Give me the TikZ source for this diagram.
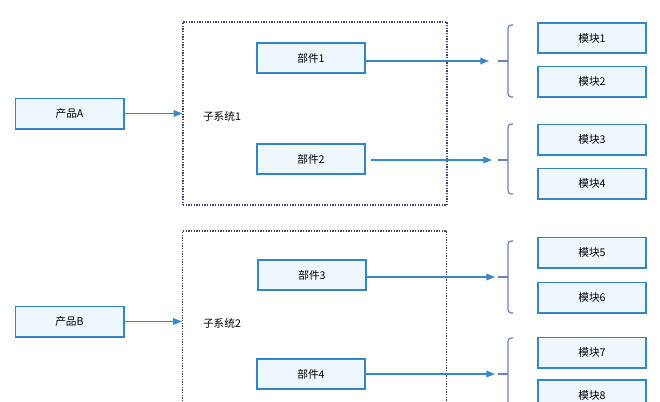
\documentclass[tikz,border=0pt]{standalone}
\usepackage{fontspec}
\setmainfont{Noto Sans CJK SC}
\usetikzlibrary{arrows.meta}
\definecolor{boxline}{HTML}{3485C6}
\definecolor{boxfill}{HTML}{EEF7FD}
\definecolor{dotline}{HTML}{38447A}
\definecolor{brline}{HTML}{6F82B8}
\definecolor{arr}{HTML}{3A88C8}
\begin{document}
\begin{tikzpicture}[x=0.75pt,y=-0.75pt,
 comp/.style={draw=boxline, fill=boxfill, line width=1.3pt, minimum width=81.2pt, minimum height=22.7pt, inner sep=0pt, font=\fontsize{8}{9}\selectfont},
 grp/.style={draw=dotline, densely dotted, line width=1pt, minimum width=198pt, minimum height=137.25pt, inner sep=0pt},
 lab/.style={font=\fontsize{8}{9}\selectfont, inner sep=0pt},
 link/.style={draw=arr, line width=0.9pt, -{Triangle[length=6.5pt,width=5pt]}},
 brk/.style={draw=brline, line width=0.9pt, rounded corners=2.5pt}]
\useasboundingbox (0,0) rectangle (660,401);
\clip (0,0) rectangle (660,401);
\fill[white] (0,0) rectangle (660,401);

% subsystem groups
\node[grp] (s1) at (315,113.5) {};
\node[grp] (s2) at (314.5,322.5) {};
\node[lab] (s1l) at (222,116) {子系统1};
\node[lab] (s2l) at (222,323) {子系统2};

% products
\node[comp] (pA) at (69.5,113.5) {产品A};
\node[comp] (pB) at (69.5,321.5) {产品B};

% parts
\node[comp] (b1) at (311,58) {部件1};
\node[comp] (b2) at (311,159) {部件2};
\node[comp] (b3) at (312,275) {部件3};
\node[comp] (b4) at (311,374) {部件4};

% modules
\node[comp] (m1) at (592,38) {模块1};
\node[comp] (m2) at (592,81.5) {模块2};
\node[comp] (m3) at (592,139.5) {模块3};
\node[comp] (m4) at (592,183.5) {模块4};
\node[comp] (m5) at (592,252.5) {模块5};
\node[comp] (m6) at (592,297.5) {模块6};
\node[comp] (m7) at (592,352.5) {模块7};
\node[comp] (m8) at (592,395) {模块8};

% product -> subsystem
\draw[link] (pA.east) -- (pA.east -| s1.west);
\draw[link] (pB.east) -- (pB.east -| s2.west);

% part -> module groups
\coordinate (t1) at (489,61);
\coordinate (t2) at (492,160);
\coordinate (t3) at (495,277);
\coordinate (t4) at (495,374);
\draw[link] (b1.east |- t1) -- (t1);
\draw[link] ([xshift=3.5pt]b2.east |- t2) -- (t2);
\draw[link] (b3.east |- t3) -- (t3);
\draw[link] (b4.east |- t4) -- (t4);

% brackets
\draw[brk] (513,25) -- (508,25) -- (508,97) -- (513,97);
\draw[brk] (498,61) -- (508,61);
\draw[brk] (513,124) -- (508,124) -- (508,194) -- (513,194);
\draw[brk] (498,160) -- (508,160);
\draw[brk] (513,241) -- (508,241) -- (508,313) -- (513,313);
\draw[brk] (498,277) -- (508,277);
\draw[brk] (513,338) -- (508,338) -- (508,410) -- (513,410);
\draw[brk] (498,374) -- (508,374);
\end{tikzpicture}
\end{document}
